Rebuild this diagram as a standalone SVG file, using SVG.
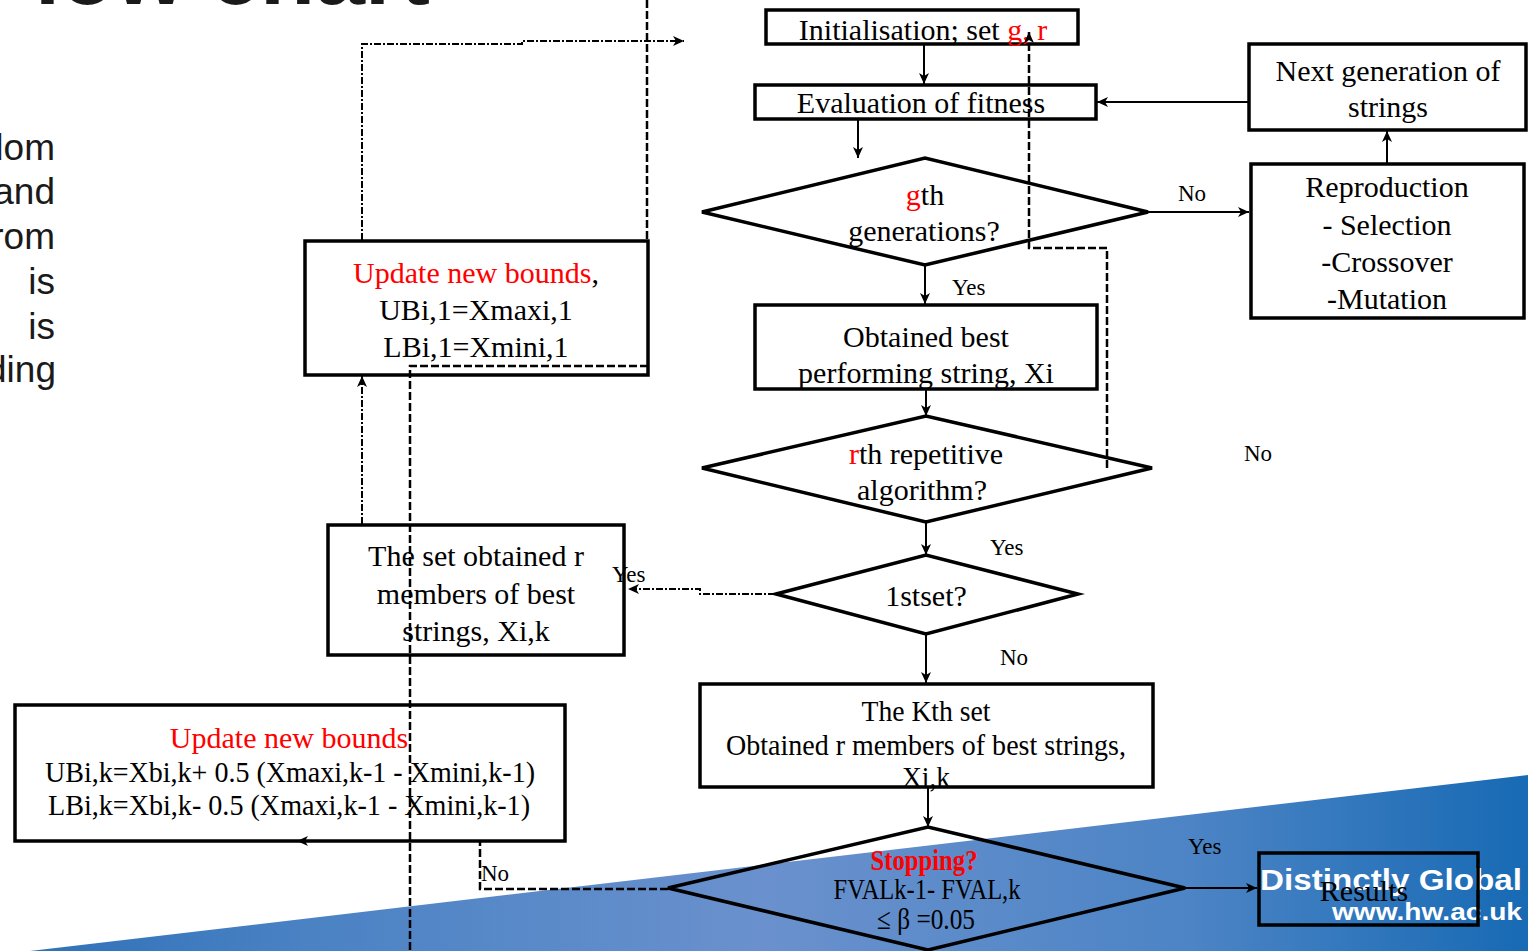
<svg xmlns="http://www.w3.org/2000/svg" width="1528" height="951" viewBox="0 0 1528 951">
<defs>
<linearGradient id="band" x1="0" y1="0" x2="1528" y2="0" gradientUnits="userSpaceOnUse">
<stop offset="0" stop-color="#2c6fb7"/>
<stop offset="0.2" stop-color="#4a82c4"/>
<stop offset="0.5" stop-color="#6a91cd"/>
<stop offset="0.78" stop-color="#4c84c5"/>
<stop offset="1" stop-color="#176ab4"/>
</linearGradient>
<marker id="ah" viewBox="0 0 12 10" refX="11" refY="5" markerWidth="12" markerHeight="10" markerUnits="userSpaceOnUse" orient="auto">
<path d="M0,0 L11,5 L0,10 L3,5 Z" fill="#000"/>
</marker>
</defs>
<style>
.node{fill:none;stroke:#000;stroke-width:3.5}
.t{font-family:"Liberation Serif","Times New Roman",serif;font-size:30px;fill:#000;text-anchor:middle}
.lbl{font-family:"Liberation Serif","Times New Roman",serif;font-size:23px;fill:#000}
.red{fill:#ff0000}
.c{fill:none;stroke:#000;stroke-width:2;marker-end:url(#ah)}
.dash{fill:none;stroke:#000;stroke-width:2.5;stroke-dasharray:8 3}
.dd{fill:none;stroke:#000;stroke-width:2;stroke-dasharray:7 2 2 2}
.slide{font-family:"Liberation Sans",Arial,sans-serif;fill:#1a1a1a}
</style>
<rect width="1528" height="951" fill="#fff"/>
<g id="background">
<polygon points="30,951 1528,775 1528,951" fill="url(#band)"/>
<text class="slide" x="-20" y="4" font-size="90" font-weight="bold">Flow chart</text>
<g class="slide" font-size="37" text-anchor="end">
<text x="55" y="160">dom</text>
<text x="55" y="204">and</text>
<text x="55" y="249">rom</text>
<text x="55" y="294">is</text>
<text x="55" y="339">is</text>
<text x="56" y="382">ding</text>
</g>
<text x="1260" y="890" font-family="'Liberation Sans',Arial,sans-serif" font-weight="bold" font-size="29" fill="#fff" textLength="262" lengthAdjust="spacingAndGlyphs">Distinctly Global</text>
<text x="1332" y="920" font-family="'Liberation Sans',Arial,sans-serif" font-weight="bold" font-size="24" fill="#fff" textLength="190" lengthAdjust="spacingAndGlyphs">www.hw.ac.uk</text>
</g>
<g id="init"><rect class="node" x="766" y="10" width="312" height="34"/><text class="t" x="923" y="40">Initialisation; set <tspan class="red">g, r</tspan></text></g>
<g id="eval"><rect class="node" x="755" y="85" width="341" height="34"/><text class="t" x="921" y="113">Evaluation of fitness</text></g>
<g id="gth"><polygon class="node" points="702,212 925,158 1148,212 925,265"/><text class="t" x="925" y="205"><tspan class="red">g</tspan>th</text><text class="t" x="924" y="241">generations?</text></g>
<g id="nextgen"><rect class="node" x="1249" y="44" width="277" height="86"/><text class="t" x="1388" y="81">Next generation of</text><text class="t" x="1388" y="117">strings</text></g>
<g id="repro"><rect class="node" x="1251" y="164" width="273" height="154"/><text class="t" x="1387" y="197">Reproduction</text><text class="t" x="1387" y="235">- Selection</text><text class="t" x="1387" y="272">-Crossover</text><text class="t" x="1387" y="309">-Mutation</text></g>
<g id="obtained"><rect class="node" x="755" y="305" width="342" height="84"/><text class="t" x="926" y="347">Obtained best</text><text class="t" x="926" y="383">performing string, Xi</text></g>
<g id="rth"><polygon class="node" points="702,468 926,416 1152,468 926,522"/><text class="t" x="926" y="464"><tspan class="red">r</tspan>th repetitive</text><text class="t" x="922" y="500">algorithm?</text></g>
<g id="firstset"><polygon class="node" points="776,594 926,555 1078,594 926,634"/><text class="t" x="926" y="606">1stset?</text></g>
<g id="setobtained"><rect class="node" x="328" y="525" width="296" height="130"/><text class="t" x="476" y="566">The set obtained r</text><text class="t" x="476" y="604">members of best</text><text class="t" x="476" y="641">strings, Xi,k</text></g>
<g id="update1"><rect class="node" x="305" y="241" width="343" height="134"/><text class="t" x="476" y="283"><tspan class="red">Update new bounds</tspan>,</text><text class="t" x="476" y="320">UBi,1=Xmaxi,1</text><text class="t" x="476" y="357">LBi,1=Xmini,1</text></g>
<g id="updatek"><rect class="node" x="15" y="705" width="550" height="136"/><text class="t red" x="289" y="748">Update new bounds</text><text class="t" x="290" y="782" font-size="28" textLength="490" lengthAdjust="spacingAndGlyphs">UBi,k=Xbi,k+ 0.5 (Xmaxi,k-1 - Xmini,k-1)</text><text class="t" x="289" y="815" font-size="28" textLength="482" lengthAdjust="spacingAndGlyphs">LBi,k=Xbi,k- 0.5 (Xmaxi,k-1 - Xmini,k-1)</text></g>
<g id="kth"><rect class="node" x="700" y="684" width="453" height="103"/><text class="t" x="926" y="721" font-size="27" textLength="129" lengthAdjust="spacingAndGlyphs">The Kth set</text><text class="t" x="926" y="755" font-size="27" textLength="400" lengthAdjust="spacingAndGlyphs">Obtained r members of best strings,</text><text class="t" x="926" y="787" font-size="27" textLength="48" lengthAdjust="spacingAndGlyphs">Xi,k</text></g>
<g id="stopping"><polygon class="node" points="668,888 928,827 1185,888 928,950"/><text class="t red" x="924" y="870" font-size="25" font-weight="bold" textLength="107" lengthAdjust="spacingAndGlyphs">Stopping?</text><text class="t" x="927" y="899" font-size="24" textLength="187" lengthAdjust="spacingAndGlyphs">FVALk-1- FVAL,k</text><text class="t" x="926" y="929" font-size="24" textLength="98" lengthAdjust="spacingAndGlyphs">≤ β =0.05</text></g>
<g id="results"><rect class="node" x="1259" y="853" width="219" height="72"/><text class="t" x="1364" y="901">Results</text></g>
<g id="connectors">
<path class="c" d="M924,44 V84"/>
<path class="c" d="M858,119 V158"/>
<path class="c" d="M1148,212 H1249"/>
<path class="c" d="M1248,102 H1097"/>
<path class="c" d="M1387,164 V131"/>
<path class="c" d="M925,265 V304"/>
<path class="c" d="M926,389 V416"/>
<path class="c" d="M926,522 V555"/>
<path class="c" d="M926,634 V683"/>
<path class="c" d="M928,787 V827"/>
<path class="c" d="M1185,888 H1257"/>
<path class="dash" d="M1107,468 V248 H1029 V32" marker-end="url(#ah)"/>
<path class="dash" d="M647,0 V241"/>
<path class="dash" d="M648,366 H410 V951"/>
<path class="dash" d="M668,889 H480 V842"/>
<path class="c" d="M312,841 H297"/>
<path class="dd" d="M775,594 H700 V589 H628" marker-end="url(#ah)"/>
<path class="dd" d="M362,524 V376" marker-end="url(#ah)"/>
<path class="dd" d="M362,240 V44 H522 V41 H684" marker-end="url(#ah)"/>
<text class="lbl" x="1178" y="201">No</text>
<text class="lbl" x="952" y="295">Yes</text>
<text class="lbl" x="1244" y="461">No</text>
<text class="lbl" x="990" y="555">Yes</text>
<text class="lbl" x="612" y="582">Yes</text>
<text class="lbl" x="1000" y="665">No</text>
<text class="lbl" x="481" y="881">No</text>
<text class="lbl" x="1188" y="854">Yes</text>
</g>
</svg>
